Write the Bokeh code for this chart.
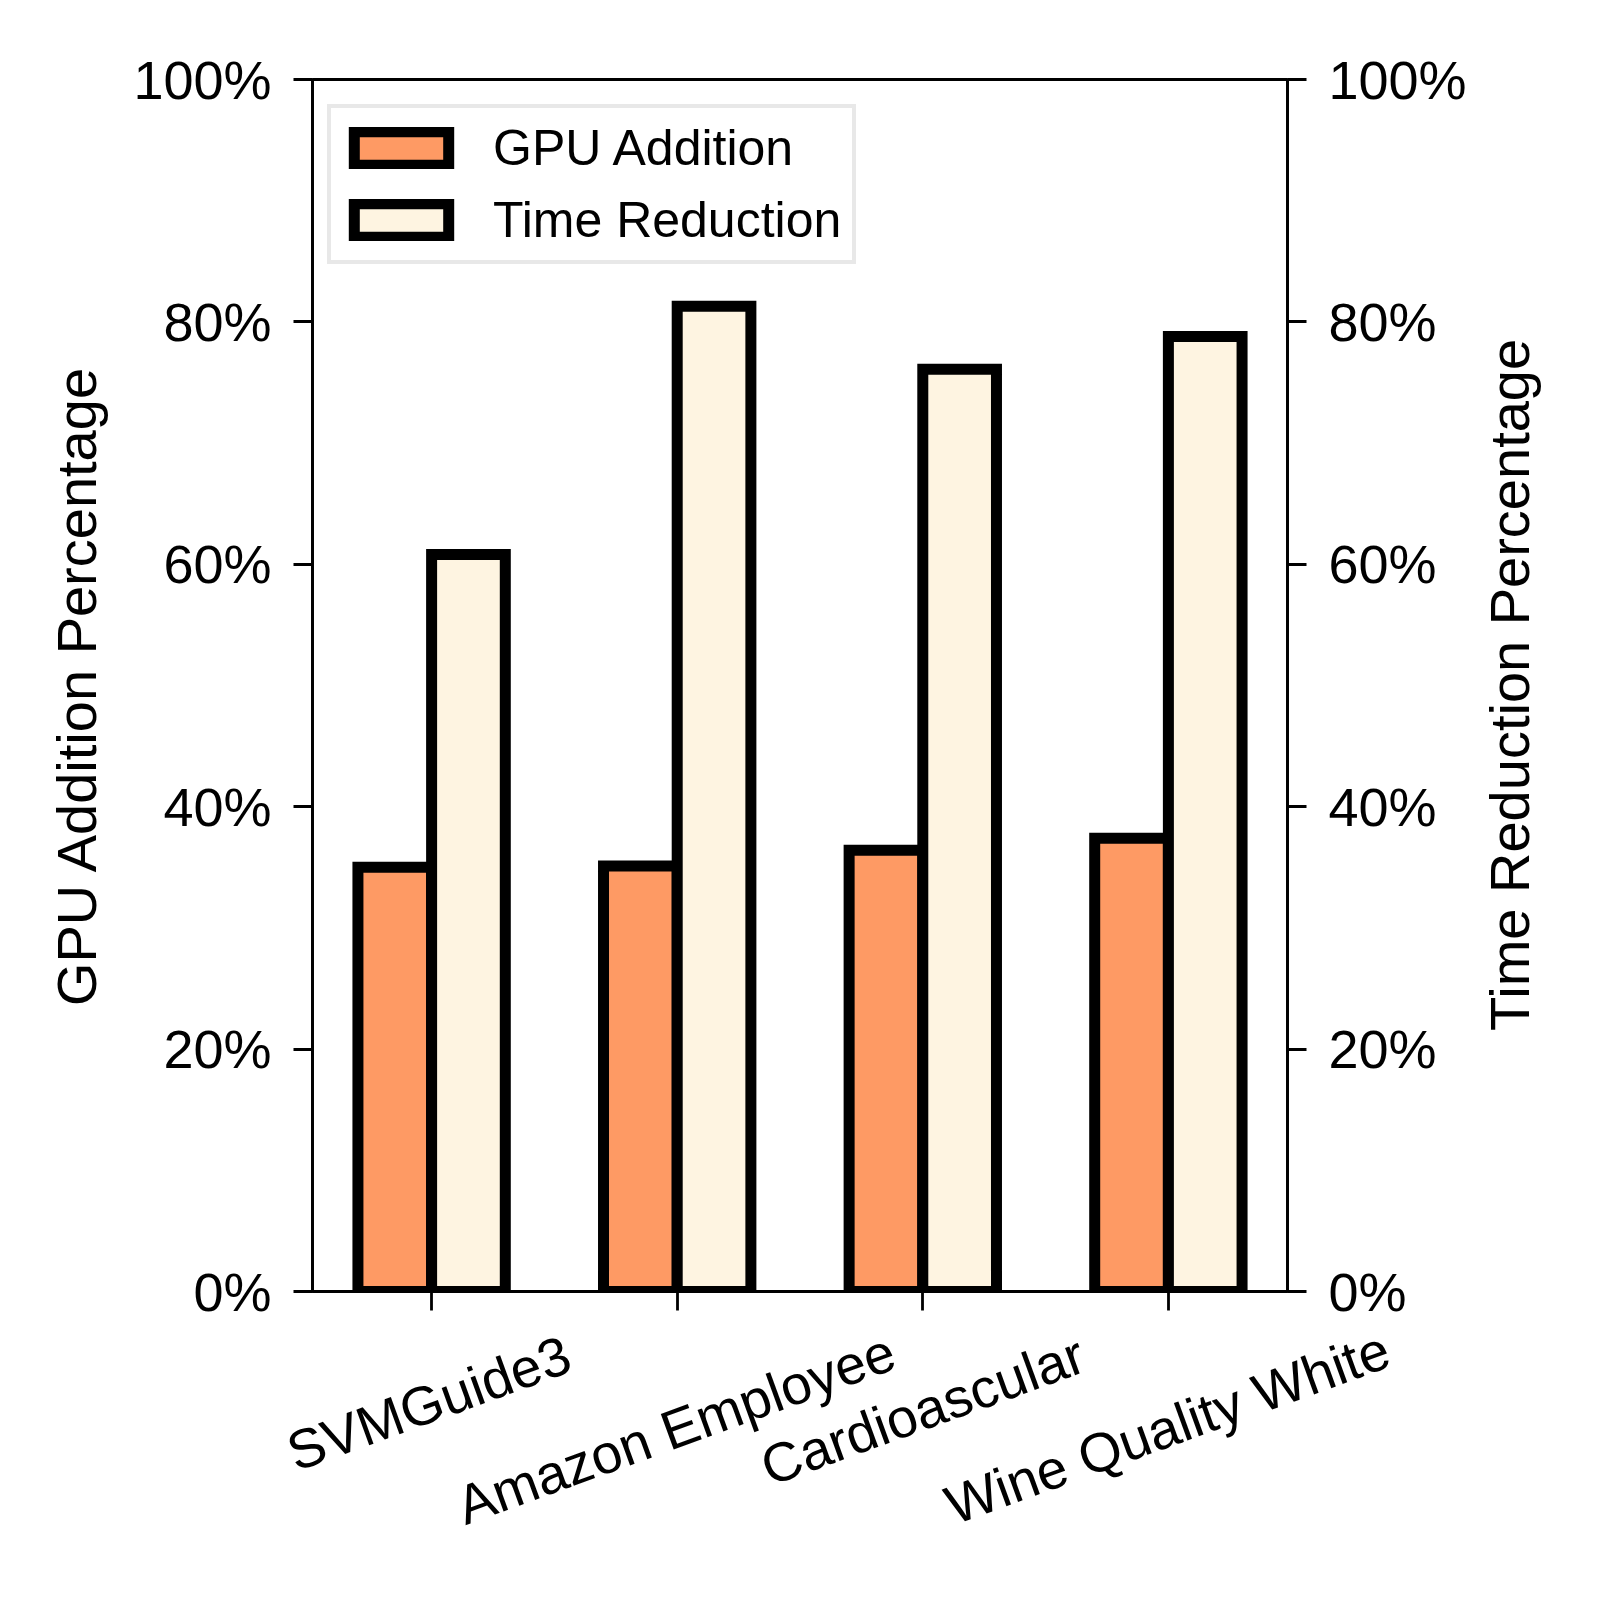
import math
from bokeh.plotting import figure
from bokeh.models import (ColumnDataSource, FixedTicker, LinearAxis, Range1d,
                          PrintfTickFormatter, Legend, LegendItem)
from bokeh.transform import dodge
from bokeh.embed import file_html
from bokeh.resources import INLINE

categories = ["SVMGuide3", "Amazon Employee", "Cardioascular", "Wine Quality White"]
gpu_addition = [35.0, 35.1, 36.4, 37.4]
time_reduction = [60.8, 81.3, 76.1, 78.8]
y_ticks = [0, 20, 40, 60, 80, 100]

# ---- style / layout constants ----
FONT = "Liberation Sans"
ORANGE = "#FE9A64"
CREAM = "#FEF4E1"
FRAME_W, FRAME_H = 975, 1212
# offset (x units) from each category tick to the anchor of its rotated label,
# so that the rotated label ends up centred under its tick
# (positive: anchored at the label's end, negative: anchored at its start)
label_shift = [0.556, -0.940, 0.649, -0.950]
LABEL_ANGLE = math.radians(20)
STANDOFF_POS = 42     # end-anchored labels (first axis, next to the plot)
STANDOFF_NEG = -57    # start-anchored labels (second axis, pulled back up)
# y position (percent) of the anchor of the rotated right-hand axis title
RIGHT_TITLE_ANCHOR = 21.5

src = ColumnDataSource(dict(x=list(range(len(categories))), cat=categories,
                            gpu=gpu_addition, time=time_reduction))

p = figure(width=1584, height=1584, output_backend="svg", toolbar_location=None,
           x_range=Range1d(-0.485, len(categories) - 1 + 0.485),
           y_range=Range1d(0, 100), x_axis_location=None,
           min_border_left=312, min_border_right=1584 - 312 - FRAME_W,
           min_border_top=79, min_border_bottom=1584 - 79 - FRAME_H)
p.extra_y_ranges = {"r": Range1d(0, 100)}

r1 = p.vbar(x=dodge("x", -0.15), top="gpu", width=0.3, bottom=0, source=src,
            fill_color=ORANGE, line_color="black", line_width=11, line_join="miter")
r2 = p.vbar(x=dodge("x", 0.15), top="time", width=0.3, bottom=0, source=src,
            fill_color=CREAM, line_color="black", line_width=11, line_join="miter")

p.xgrid.visible = False
p.ygrid.visible = False
p.outline_line_color = "black"
p.outline_line_width = 2.8
p.background_fill_color = "white"
p.border_fill_color = "white"

def style_axis(ax):
    ax.axis_line_width = 2.8
    ax.major_tick_line_width = 2.8
    ax.major_tick_out = 19
    ax.major_tick_in = 0
    ax.minor_tick_out = 0
    ax.minor_tick_in = 0
    ax.major_label_text_font = FONT
    ax.major_label_text_font_size = "54px"
    ax.major_label_text_color = "black"
    ax.axis_label_text_font = FONT
    ax.axis_label_text_font_size = "56px"
    ax.axis_label_text_font_style = "normal"
    ax.axis_label_text_color = "black"

pos_idx = [i for i, s in enumerate(label_shift) if s > 0]
neg_idx = [i for i, s in enumerate(label_shift) if s < 0]

# ---- x axis A (next to the plot): category ticks (minor) + end-anchored labels ----
xa = LinearAxis()
style_axis(xa)
anchors_a = [i + label_shift[i] for i in pos_idx]
xa.ticker = FixedTicker(ticks=anchors_a, minor_ticks=list(range(len(categories))))
xa.major_label_overrides = {a: categories[i] for a, i in zip(anchors_a, pos_idx)}
xa.major_tick_out = 0
xa.minor_tick_out = 19
xa.minor_tick_line_width = 2.8
xa.minor_tick_line_color = "black"
xa.major_label_orientation = LABEL_ANGLE
xa.major_label_text_font_size = "55px"
xa.major_label_standoff = STANDOFF_POS
p.add_layout(xa, "below")

# ---- x axis B: start-anchored labels (same visual rotation) ----
xb = LinearAxis()
style_axis(xb)
anchors_b = [i + label_shift[i] for i in neg_idx]
xb.ticker = FixedTicker(ticks=anchors_b, minor_ticks=[])
xb.major_label_overrides = {a: "\n" + categories[i] for a, i in zip(anchors_b, neg_idx)}
xb.axis_line_color = None
xb.major_tick_out = 0
xb.major_tick_line_color = None
xb.major_label_orientation = LABEL_ANGLE - 2 * math.pi
xb.major_label_text_font_size = "55px"
xb.major_label_standoff = STANDOFF_NEG
p.add_layout(xb, "below")

# ---- left y axis ----
ya = p.yaxis[0]
style_axis(ya)
ya.ticker = FixedTicker(ticks=y_ticks)
ya.formatter = PrintfTickFormatter(format="%d%%")
ya.axis_label = "GPU Addition Percentage"
ya.major_label_standoff = 22
ya.axis_label_standoff = 22

# ---- right y axis ----
ra = LinearAxis(y_range_name="r")
style_axis(ra)
ra.ticker = FixedTicker(ticks=y_ticks)
ra.formatter = PrintfTickFormatter(format="%d%%")
ra.major_label_standoff = 22
p.add_layout(ra, "right")

# right-hand title, reading bottom-to-top
rt = LinearAxis(y_range_name="r")
style_axis(rt)
rt.ticker = FixedTicker(ticks=[RIGHT_TITLE_ANCHOR], minor_ticks=[])
rt.major_label_overrides = {RIGHT_TITLE_ANCHOR: "Time Reduction Percentage"}
rt.axis_line_color = None
rt.major_tick_out = 0
rt.major_tick_line_color = None
rt.major_label_orientation = math.pi / 2
rt.major_label_text_font_size = "56px"
rt.major_label_standoff = 40
p.add_layout(rt, "right")

legend = Legend(items=[LegendItem(label="GPU Addition", renderers=[r1]),
                       LegendItem(label="Time Reduction", renderers=[r2])],
                location=(15, 1027), margin=0, padding=11, spacing=14,
                glyph_width=118, glyph_height=42, label_standoff=33,
                label_text_font=FONT, label_text_font_size="50px",
                label_text_color="black", label_height=55,
                border_line_color="#d2d2d2", border_line_width=4,
                background_fill_color="white", background_fill_alpha=0.8)
p.add_layout(legend)

open("out.html", "w").write(file_html(p, INLINE))
